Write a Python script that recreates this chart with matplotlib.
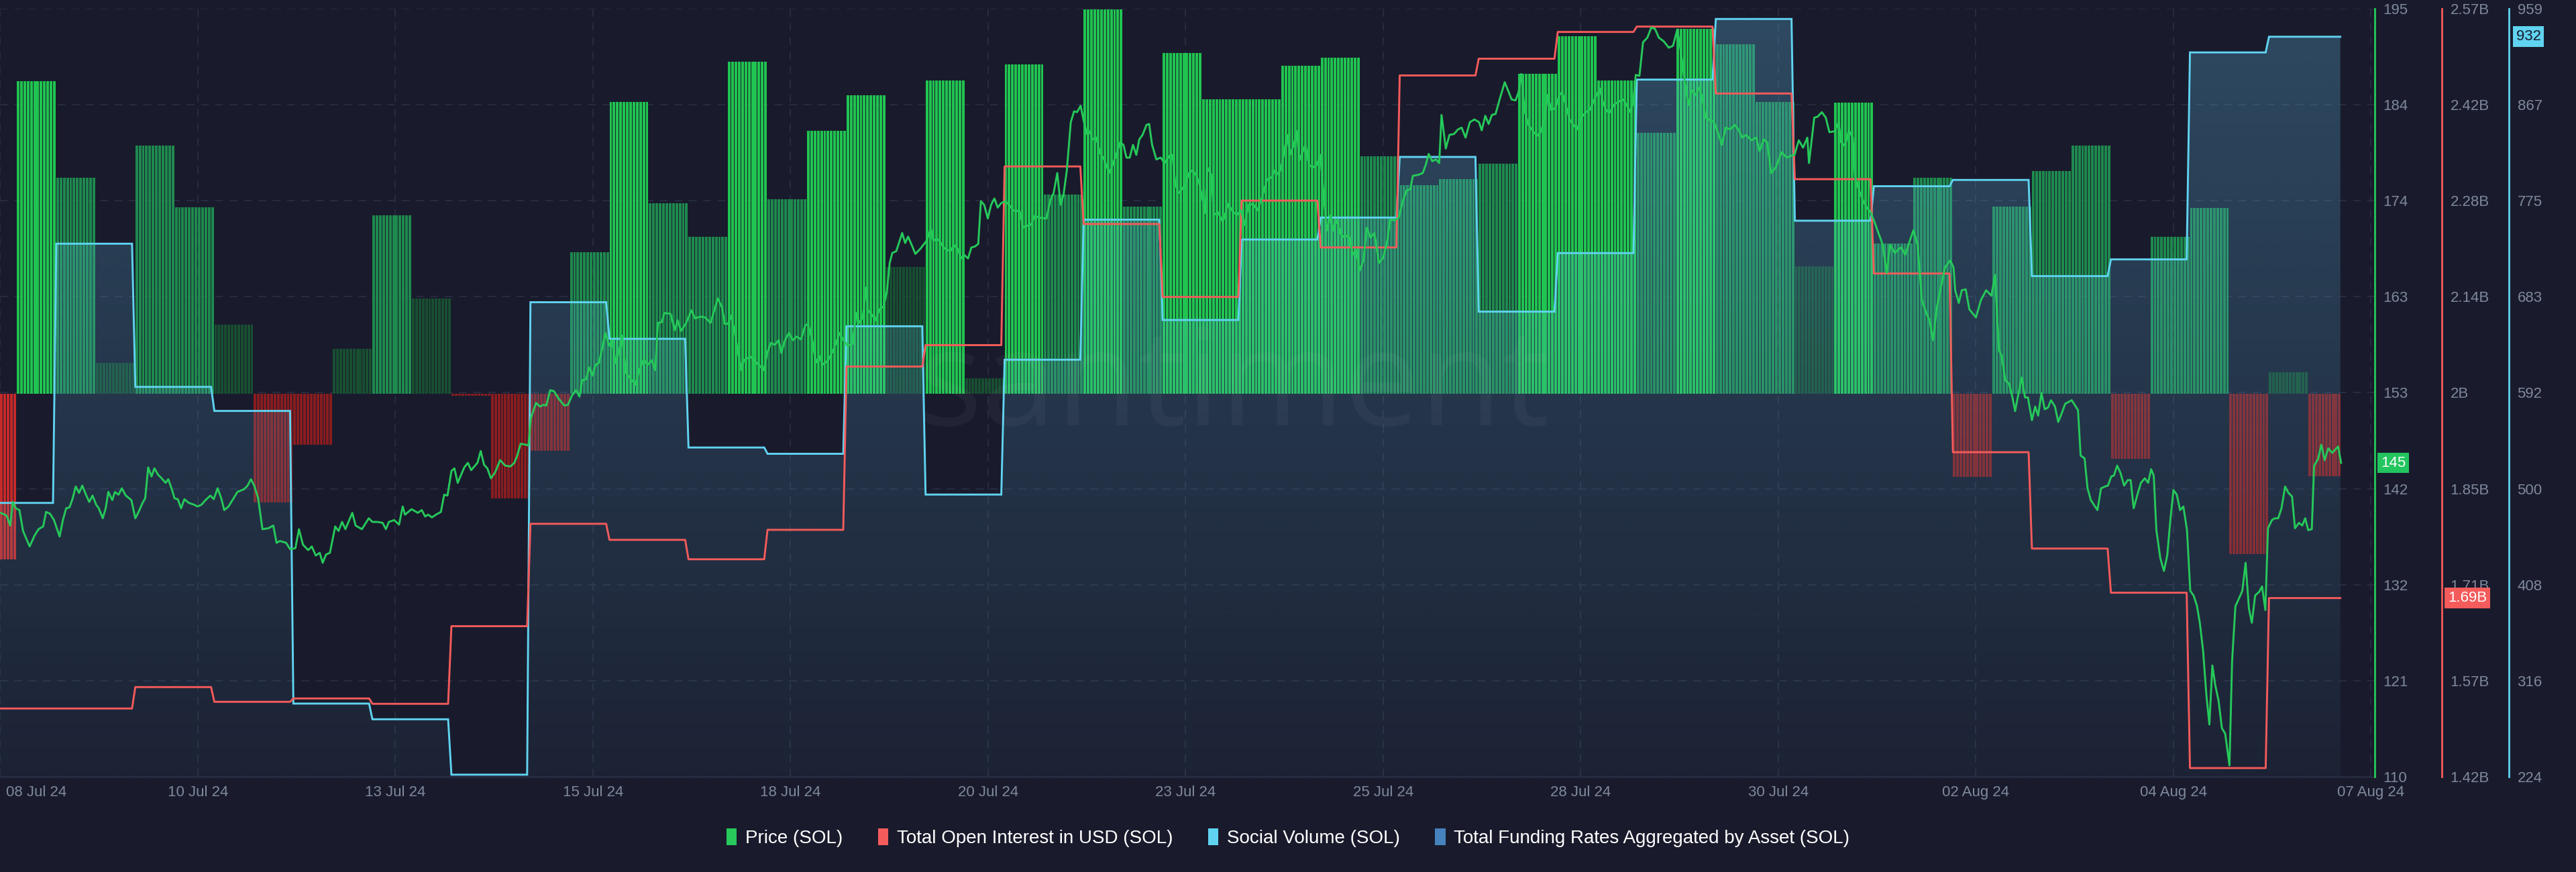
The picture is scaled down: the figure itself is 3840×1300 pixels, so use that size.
import numpy as np
import pandas as pd
import matplotlib
matplotlib.use("Agg")
import matplotlib.pyplot as plt
import matplotlib.dates as mdates
from matplotlib.colors import to_rgb
from matplotlib.patches import Patch, PathPatch
from matplotlib.transforms import blended_transform_factory, ScaledTranslation

plt.rcParams["font.family"] = ["Liberation Sans", "DejaVu Sans"]

# ----------------------------
# Colours
# ----------------------------
BG = "#191b2c"
GRID = "#282c40"
TICK = "#7f889d"
GREEN = "#26c95a"
RED = "#f45b5b"
CYAN = "#60d3f0"
BLUE = "#4682be"
SHADE = {"b": "#20c450", "m": "#1e8a4e", "d": "#184f31", "r": "#c42a2a", "R": "#8a1c1f"}

# ----------------------------
# Data (axis time is UTC-7, data days start at 00:00 UTC = 17:00)
# ----------------------------
AXIS_START = pd.Timestamp("2024-07-08 00:00")
FIRST_PERIOD = pd.Timestamp("2024-07-07 17:00")
DATA_END = pd.Timestamp("2024-08-06 14:40")

# funding rate per 12h period (%), starting FIRST_PERIOD
funding_rate = [
    -0.0429, 0.0812, 0.0561, 0.0080, 0.0645, 0.0484, 0.0180, -0.0281, -0.0131, 0.0117,
    0.0464, 0.0248, -0.0005, -0.0271, -0.0147, 0.0368, 0.0758, 0.0495, 0.0408, 0.0862,
    0.0506, 0.0682, 0.0775, 0.0330, 0.0814, 0.0040, 0.0855, 0.0517, 0.0997, 0.0486,
    0.0884, 0.0765, 0.0765, 0.0852, 0.0873, 0.0617, 0.0542, 0.0557, 0.0597, 0.0830,
    0.0929, 0.0814, 0.0678, 0.0947, 0.0908, 0.0757, 0.0331, 0.0756, 0.0390, 0.0561,
    -0.0216, 0.0486, 0.0578, 0.0645, -0.0168, 0.0407, 0.0483, -0.0416, 0.0057, -0.0213,
]
funding_shade = "rbmdmmdRRd" "mdRRRmbmmb" "mbbdbdbmbm" "bbbbbmmmmb" "bbmbmmdbmm" "RmmmRmmRdR"

# daily values
social_volume = [486, 734, 597, 574, 294, 279, 226, 678, 643, 539,
                 533, 655, 494, 623, 757, 661, 738, 759, 817, 669,
                 725, 891, 949, 756, 789, 795, 703, 719, 917, 932]
open_interest_bn = [1.524, 1.524, 1.556, 1.534, 1.539, 1.531, 1.647, 1.800, 1.776, 1.747,
                    1.791, 2.035, 2.067, 2.334, 2.248, 2.139, 2.283, 2.213, 2.470, 2.495,
                    2.535, 2.543, 2.443, 2.315, 2.174, 1.907, 1.763, 1.697, 1.435, 1.689]

# price: (hours after 08 Jul 00:00, USD)
price_points = [
    (0.0, 139.5), (0.8, 139.4), (1.9, 139.2), (3.0, 138.1), (3.8, 140.7), (4.7, 140.0), (5.8, 139.8),
    (6.9, 137.5), (8.9, 135.8), (10.4, 137.0), (11.6, 137.7), (13.0, 138.0), (13.9, 139.6), (15.1, 139.4),
    (16.3, 138.7), (18.0, 136.9), (19.0, 138.7), (20.0, 140.0), (21.0, 140.1), (21.9, 141.0), (22.9, 142.4),
    (23.9, 141.7), (24.9, 142.5), (26.0, 141.5), (27.0, 140.7), (28.0, 141.4), (29.1, 140.4), (29.9, 140.0),
    (31.1, 138.9), (32.0, 140.0), (32.8, 141.8), (34.0, 140.9), (34.8, 141.8), (35.9, 141.5), (36.9, 142.2),
    (38.1, 141.4), (39.8, 140.9), (41.0, 138.9), (42.0, 139.6), (43.2, 140.6), (44.0, 141.1), (44.9, 144.5),
    (45.9, 143.5), (46.8, 144.4), (47.9, 143.7), (49.0, 143.3), (50.2, 142.8), (51.0, 143.2), (52.0, 142.2),
    (52.9, 141.1), (53.9, 141.0), (54.9, 140.0), (55.9, 141.0), (57.2, 140.6), (58.8, 140.4), (59.9, 140.2),
    (61.1, 140.4), (62.3, 140.9), (63.8, 141.4), (64.8, 141.0), (66.0, 142.2), (67.1, 141.1), (68.0, 139.8),
    (69.3, 140.2), (70.5, 140.9), (72.0, 141.8), (74.0, 142.1), (75.1, 142.5), (76.1, 143.2), (77.1, 142.5),
    (78.3, 141.1), (79.6, 137.7), (81.4, 137.8), (82.9, 138.1), (83.9, 136.2), (84.9, 136.4), (86.8, 136.2),
    (88.0, 135.5), (89.6, 135.6), (90.7, 137.7), (91.9, 136.0), (93.5, 135.4), (94.6, 135.8), (95.8, 134.8),
    (97.0, 135.1), (97.9, 134.0), (98.9, 134.9), (100.1, 135.1), (101.7, 138.0), (102.7, 137.5), (103.8, 138.5),
    (104.8, 137.7), (106.9, 139.5), (107.9, 138.1), (109.8, 137.7), (111.9, 138.9), (113.0, 138.5), (114.5, 138.5),
    (116.1, 138.4), (117.1, 137.7), (118.0, 138.5), (119.6, 138.7), (121.1, 138.2), (122.2, 140.2),
    (122.9, 139.3), (124.9, 139.9), (126.8, 139.5), (128.0, 139.8), (129.0, 139.1), (129.9, 139.3), (131.1, 139.0),
    (132.3, 139.3), (133.8, 139.6), (134.8, 141.5), (135.8, 141.4), (137.0, 144.1), (137.9, 144.4), (138.9, 142.8),
    (140.9, 144.5), (142.0, 145.0), (143.0, 144.2), (144.9, 145.0), (145.9, 146.3), (146.9, 144.8), (147.9, 144.4),
    (149.0, 143.3), (150.2, 143.9), (151.8, 145.3), (153.3, 144.7), (154.9, 144.6), (156.1, 145.0), (157.0, 145.8),
    (158.0, 147.1), (159.6, 147.0), (160.4, 146.9), (161.1, 149.9), (162.7, 151.6), (163.9, 151.2), (165.0, 151.4),
    (165.8, 151.3), (167.0, 153.0), (168.1, 152.9), (169.7, 152.0), (171.3, 151.3), (172.4, 151.4), (173.6, 152.4),
    (174.8, 153.0), (175.9, 152.3), (176.7, 154.1), (177.9, 154.2), (178.8, 155.5), (179.8, 154.6), (180.8, 155.8),
    (181.8, 156.0), (183.0, 157.9), (183.7, 159.3), (184.9, 157.9), (185.7, 158.5), (186.9, 156.0), (188.0, 157.4),
    (188.8, 159.0), (190.0, 154.9), (191.5, 154.2), (192.9, 153.6), (194.0, 155.2), (195.4, 156.4), (196.6, 155.8),
    (197.8, 156.3), (198.9, 155.2), (199.7, 160.4), (200.9, 160.5), (201.7, 161.5), (203.6, 161.4), (204.8, 159.6),
    (205.7, 160.7), (206.7, 159.5), (208.3, 160.4), (209.9, 161.8), (211.0, 160.9), (212.6, 161.1), (214.1, 161.0),
    (215.7, 160.4), (217.9, 163.1), (219.2, 162.1), (220.0, 160.3), (221.0, 160.3), (221.9, 161.2), (223.1, 159.3),
    (223.9, 157.4), (225.1, 155.2), (225.8, 156.3), (227.8, 156.7), (229.7, 156.0), (231.9, 155.2), (232.9, 157.1),
    (234.0, 158.2), (235.2, 158.0), (236.4, 158.5), (237.2, 157.1), (238.3, 158.5), (239.5, 159.3), (240.7, 158.5),
    (241.8, 158.9), (243.2, 158.6), (244.4, 160.1),
    (245.3, 160.3), (246.6, 158.5), (247.7, 156.0), (248.7, 156.8), (249.7, 155.8), (251.4, 156.3), (253.0, 157.4),
    (254.9, 159.3), (256.1, 158.5), (257.3, 157.9), (258.8, 158.1), (260.0, 161.5), (260.9, 160.4), (261.9, 161.0),
    (263.0, 164.3), (263.5, 161.8), (264.7, 161.3), (265.8, 160.7), (267.0, 161.9), (268.2, 162.2), (269.2, 163.7),
    (270.1, 167.0), (270.9, 168.1), (272.1, 168.3), (273.9, 170.3), (274.8, 169.2), (275.7, 169.9), (277.0, 168.8),
    (277.9, 168.0), (279.5, 168.6), (281.4, 169.5), (282.6, 170.8), (283.4, 169.4), (284.3, 169.7), (285.3, 169.4),
    (286.5, 168.7), (287.7, 168.4), (288.8, 168.4), (289.6, 169.0), (290.8, 168.5), (291.8, 167.5), (292.7, 167.9),
    (293.9, 167.5), (294.9, 168.7), (295.9, 168.8), (297.0, 169.1), (297.8, 173.8), (298.8, 173.4), (299.9, 171.9),
    (300.9, 173.4), (301.9, 174.1), (302.9, 173.1), (304.0, 173.6), (305.2, 173.8), (306.4, 173.4), (307.6, 172.8),
    (308.5, 172.7), (309.5, 172.8), (310.7, 170.9), (311.8, 171.1), (313.0, 171.2), (314.2, 172.2), (315.3, 172.0),
    (317.7, 171.9), (318.9, 173.9), (319.9, 174.7), (321.0, 176.9), (322.0, 173.4), (322.9, 174.5), (323.9, 177.2),
    (325.1, 182.5), (326.1, 183.7), (327.0, 183.6), (328.1, 184.3), (329.0, 182.7), (330.0, 181.2), (330.9, 181.5),
    (331.7, 180.6), (332.9, 180.8), (333.9, 179.2), (335.2, 178.4), (336.8, 176.9), (337.8, 177.8), (338.9, 178.9),
    (340.1, 180.3), (341.1, 180.0), (342.0, 178.6), (343.0, 178.6), (344.0, 180.0), (345.0, 178.9), (345.9, 180.6),
    (346.9, 181.1), (348.1, 182.2), (348.9, 182.3), (349.8, 180.0), (351.1, 178.4), (352.4, 178.6), (353.6, 178.0),
    (355.1, 178.8), (356.0, 178.9), (356.8, 175.8), (357.8, 174.7), (358.6, 175.0), (359.8, 175.6), (361.0, 176.9),
    (362.1, 177.2), (363.1, 176.7), (364.1, 175.8), (365.2, 173.9), (365.9, 172.5), (366.6, 177.5),
    (367.8, 176.7), (368.6, 172.3), (369.8, 172.6), (371.3, 171.5), (372.9, 173.5), (374.4, 172.6), (375.6, 172.3),
    (376.8, 172.8), (377.9, 171.2), (379.1, 173.4), (380.5, 173.5), (381.8, 172.8), (383.0, 174.0), (384.7, 176.2),
    (386.0, 176.4), (387.1, 177.2), (388.3, 176.7), (389.2, 177.8), (390.0, 179.4), (390.8, 181.1), (391.7, 178.9),
    (392.8, 180.0), (393.8, 181.5), (394.5, 178.3), (395.5, 179.2), (396.4, 180.0), (397.4, 177.8), (398.6, 177.5),
    (399.8, 177.8), (400.9, 178.9), (401.9, 174.5), (402.9, 170.6), (404.1, 172.3), (404.8, 170.6), (405.8, 171.7),
    (407.2, 170.1), (408.3, 169.8), (409.5, 170.1), (410.7, 167.9), (411.7, 168.5), (412.9, 166.2), (414.0, 167.3),
    (415.0, 170.9), (416.1, 169.8), (417.3, 170.3), (418.7, 167.0), (420.0, 167.6), (421.2, 169.4), (422.1, 171.8),
    (423.4, 171.7), (424.7, 172.0), (426.0, 173.9), (427.1, 175.0), (428.2, 175.1), (429.0, 176.6), (430.6, 176.7),
    (432.0, 176.9), (432.9, 177.8), (433.8, 179.0), (434.9, 178.2), (436.0, 178.4), (437.0, 178.0), (437.7, 183.3),
    (439.0, 179.6), (440.1, 181.1), (441.5, 181.2), (442.7, 181.7), (443.8, 181.9), (445.0, 180.8), (446.3, 182.5),
    (447.7, 182.8), (449.1, 182.5), (449.9, 181.6), (451.0, 183.2), (452.0, 182.3), (453.0, 183.3), (454.1, 183.4),
    (455.5, 185.2), (456.9, 186.9), (457.9, 186.0), (459.0, 185.0), (460.2, 184.9), (461.1, 185.8), (461.9, 187.8),
    (462.9, 183.8), (464.1, 182.2), (465.5, 181.5), (466.8, 181.0), (468.0, 181.5), (469.2, 183.4), (469.9, 185.5),
    (471.1, 183.8), (472.3, 184.1), (473.5, 185.5), (474.4, 185.8), (475.4, 184.4), (476.6, 182.8), (477.7, 182.2),
    (478.9, 181.7), (480.1, 183.0), (481.6, 183.6), (482.8, 183.9), (484.4, 185.2), (485.8, 186.2), (486.7, 184.7),
    (487.9, 183.7),
    (488.9, 183.6), (490.0, 184.4), (491.2, 184.7), (492.8, 185.0), (493.9, 184.4), (495.1, 183.6), (495.9, 184.7),
    (496.7, 187.7), (497.8, 187.6), (498.9, 191.3), (500.2, 191.8), (501.4, 192.9), (502.5, 192.8), (503.7, 191.8),
    (505.2, 191.4), (506.7, 190.7), (508.0, 190.9), (509.3, 192.7), (510.3, 190.5), (511.5, 187.1), (512.7, 184.4),
    (513.7, 186.0), (515.0, 185.5), (516.0, 186.3), (516.9, 185.2), (517.9, 183.0), (519.3, 182.7), (520.5, 182.5),
    (521.6, 181.4), (522.8, 180.0), (524.0, 181.9), (525.4, 181.7), (526.7, 182.2), (527.9, 181.7), (529.0, 180.8),
    (530.2, 181.1), (531.8, 180.5), (533.3, 180.8), (534.3, 179.3), (535.5, 180.6), (536.6, 180.3), (537.8, 176.9),
    (539.2, 177.5), (541.0, 179.2), (542.5, 178.6), (543.8, 178.8), (544.9, 178.9), (546.2, 180.5), (547.5, 179.7),
    (548.8, 180.8), (549.3, 178.0), (550.9, 183.0), (551.9, 183.1), (553.2, 183.6), (554.4, 183.0), (555.5, 181.4),
    (557.1, 181.5), (558.3, 182.5), (559.0, 180.3), (560.2, 179.9), (561.4, 181.6), (562.6, 180.8), (563.3, 176.4),
    (564.5, 175.0), (565.7, 173.9), (566.8, 173.1), (568.0, 172.6), (569.2, 171.5), (570.4, 170.3), (571.7, 169.0),
    (572.9, 165.9), (573.9, 169.0), (575.4, 168.1), (576.4, 168.5), (577.4, 168.7), (578.5, 167.9), (579.7, 169.2),
    (581.0, 170.6), (582.3, 169.0), (583.6, 162.9), (584.9, 161.5), (585.9, 160.7), (587.0, 158.5), (588.1, 162.1),
    (589.5, 164.6), (590.6, 166.5), (592.2, 167.3), (593.2, 166.5), (593.7, 164.0), (594.8, 162.6), (595.7, 164.0),
    (596.9, 164.1), (598.0, 161.9), (600.0, 161.0), (601.5, 162.9), (603.1, 164.0), (604.7, 163.4), (605.8, 165.7),
    (607.0, 157.4), (607.8, 156.8), (608.9, 154.1), (610.1, 153.7), (611.1, 152.2),
    (611.9, 150.7), (612.8, 152.4), (613.9, 154.4), (614.9, 152.2), (615.8, 152.2), (617.0, 149.7), (618.0, 151.2),
    (618.9, 150.2), (619.9, 152.7), (620.9, 150.9), (621.9, 151.1), (622.8, 151.9), (624.0, 151.2), (625.0, 149.5),
    (626.1, 150.5), (627.1, 151.5), (629.1, 151.9), (631.0, 150.8), (631.8, 145.8), (633.0, 145.5), (633.9, 142.2),
    (634.9, 140.9), (636.9, 139.8), (638.0, 142.2), (639.2, 142.4), (640.1, 142.5), (641.1, 143.5), (641.9, 143.6),
    (642.9, 144.7), (643.9, 143.9), (645.0, 142.5), (646.1, 143.1), (647.0, 143.1), (647.9, 140.0), (649.2, 141.7),
    (650.1, 142.8), (651.3, 143.3), (652.3, 142.8), (653.2, 144.3), (654.0, 143.6), (654.8, 137.6), (656.0, 134.5),
    (657.1, 133.1), (658.1, 134.8), (659.1, 138.9), (660.0, 142.0), (661.0, 141.5), (662.0, 139.8), (663.0, 140.2),
    (664.1, 137.6), (665.1, 130.9), (666.1, 130.4), (667.1, 129.3), (668.0, 127.4), (669.0, 124.3), (670.0, 119.4),
    (670.9, 116.2), (671.8, 122.7), (672.7, 120.5), (673.7, 118.8), (674.7, 115.8), (675.7, 115.2), (677.0, 111.7),
    (677.8, 123.2), (678.8, 129.2), (679.9, 130.1), (680.9, 130.9), (681.9, 134.0), (682.9, 129.0), (683.8, 127.4),
    (684.8, 130.4), (686.0, 130.8), (686.9, 131.4), (687.9, 128.8), (688.7, 137.8), (689.9, 138.7), (690.8, 138.9),
    (691.8, 138.9), (692.8, 140.0), (693.9, 142.4), (694.9, 141.7), (696.0, 141.3), (696.9, 137.8), (698.1, 138.4),
    (699.1, 138.1), (700.0, 138.9), (700.9, 137.6), (702.0, 137.7), (702.7, 144.7), (703.9, 145.4), (704.9, 147.0),
    (705.9, 145.3), (707.0, 146.6), (708.2, 146.1), (710.0, 146.8), (710.9, 145.0),
]

price_tick_labels = ["110", "121", "132", "142", "153", "163", "174", "184", "195"]
oi_tick_labels = ["1.42B", "1.57B", "1.71B", "1.85B", "2B", "2.14B", "2.28B", "2.42B", "2.57B"]
sv_tick_labels = ["224", "316", "408", "500", "592", "683", "775", "867", "959"]

PRICE_LIM = (110.45, 195.01)
OI_LIM = (1.422, 2.570)
SV_LIM = (224, 959)
FUND_LIM = (-0.0993, 0.1)

legend_labels = ["Price (SOL)", "Total Open Interest in USD (SOL)", "Social Volume (SOL)",
                 "Total Funding Rates Aggregated by Asset (SOL)"]


def step_xy(values):
    xs, ys = [], []
    for i, v in enumerate(values):
        t0 = FIRST_PERIOD + pd.Timedelta(days=i)
        t1 = min(t0 + pd.Timedelta(hours=23), DATA_END)
        xs += [t0, t1]
        ys += [v, v]
    return mdates.date2num(xs), np.array(ys, dtype=float)


# ----------------------------
# Figure and axes
# ----------------------------
fig = plt.figure(figsize=(38.4, 13), dpi=100, facecolor=BG)
ax_f = fig.add_axes([0.0, 0.10923, 0.92188, 0.88100])
ax_f.set_facecolor(BG)
ax_s = ax_f.twinx()
ax_o = ax_f.twinx()
ax_p = ax_f.twinx()

x0 = mdates.date2num(AXIS_START - pd.Timedelta(minutes=6))
x1 = mdates.date2num(AXIS_START + pd.Timedelta(days=30.047))

# funding bars, one thin stripe per hour
hours = pd.date_range(FIRST_PERIOD, DATA_END, freq="h")
period = np.asarray((hours - FIRST_PERIOD) // pd.Timedelta(hours=12), dtype=int)
fund_vals = np.asarray(funding_rate)[period]
fund_cols = [SHADE[funding_shade[k]] for k in period]
ax_f.bar(mdates.date2num(hours), fund_vals, width=0.8 / 24, align="edge",
         color=fund_cols, linewidth=0, zorder=2)
ax_f.set_ylim(*FUND_LIM)
ax_f.set_yticks(np.linspace(FUND_LIM[0], FUND_LIM[1], 9))
ax_f.tick_params(axis="y", left=False, labelleft=False)
ax_f.grid(True, color=GRID, linestyle=(0, (6, 5)), linewidth=1.4, zorder=0)
ax_f.set_axisbelow(True)

# social volume: gradient area + line
sv_x, sv_y = step_xy(social_volume)
poly = ax_s.fill_between(sv_x, sv_y, SV_LIM[0], facecolor="none", edgecolor="none")
clip = PathPatch(poly.get_paths()[0], transform=ax_s.transData, facecolor="none", edgecolor="none")
ax_s.add_patch(clip)
grad = np.zeros((256, 1, 4))
grad[..., :3] = to_rgb("#5fb8e0")
grad[..., 3] = np.linspace(0.05, 0.30, 256)[:, None]
img = ax_s.imshow(grad, extent=[x0, x1, SV_LIM[0], SV_LIM[1]], origin="lower",
                  aspect="auto", interpolation="bilinear", zorder=1)
img.set_clip_path(clip)
ax_s.plot(sv_x, sv_y, color=CYAN, lw=2.1, zorder=3, solid_joinstyle="miter")
ax_s.set_ylim(*SV_LIM)

# open interest line
oi_x, oi_y = step_xy(open_interest_bn)
ax_o.plot(oi_x, oi_y, color=RED, lw=2.1, zorder=3)
ax_o.set_ylim(*OI_LIM)

# price line
p_hours, p_vals = zip(*price_points)
p_times = AXIS_START + pd.to_timedelta(np.array(p_hours), unit="h")
ax_p.plot(mdates.date2num(p_times), p_vals, color=GREEN, lw=2.1, zorder=4)
ax_p.set_ylim(*PRICE_LIM)

ax_f.set_xlim(x0, x1)

# ----------------------------
# Axes styling
# ----------------------------
for ax in (ax_f, ax_s, ax_o, ax_p):
    for side in ("top", "left", "right"):
        ax.spines[side].set_visible(False)
ax_s.spines["bottom"].set_visible(False)
ax_o.spines["bottom"].set_visible(False)
ax_p.spines["bottom"].set_visible(False)
ax_f.spines["bottom"].set_color("#262a3e")
ax_f.spines["bottom"].set_linewidth(2)

for ax, pos, col, lim, labels in ((ax_p, 1.0, GREEN, PRICE_LIM, price_tick_labels),
                                  (ax_o, 1.02825, RED, OI_LIM, oi_tick_labels),
                                  (ax_s, 1.0565, CYAN, SV_LIM, sv_tick_labels)):
    ax.spines["right"].set_visible(True)
    ax.spines["right"].set_position(("axes", pos))
    ax.spines["right"].set_color(col)
    ax.spines["right"].set_linewidth(2)
    ax.set_yticks(np.linspace(lim[0], lim[1], 9))
    ax.set_yticklabels(labels)
    ax.tick_params(axis="y", length=0, pad=9, labelsize=16, labelcolor=TICK)

date_ticks = pd.date_range("2024-07-08", periods=13, freq="60h")
ax_f.set_xticks(mdates.date2num(date_ticks))
ax_f.xaxis.set_major_formatter(mdates.DateFormatter("%d %b %y"))
ax_f.tick_params(axis="x", length=0, pad=9, labelsize=16, labelcolor=TICK)
first = ax_f.get_xticklabels()[0]
first.set_horizontalalignment("left")
first.set_transform(first.get_transform() + ScaledTranslation(0.09, 0, fig.dpi_scale_trans))

# last-value tags
tag_font = dict(fontsize=16, ha="center", va="center", clip_on=False, zorder=10)
ax_p.text(1.0079, price_points[-1][1], "145", color="white",
          transform=blended_transform_factory(ax_p.transAxes, ax_p.transData),
          bbox=dict(boxstyle="square,pad=0.22", fc="#22c55e", ec="none"), **tag_font)
ax_o.text(1.039, open_interest_bn[-1], "1.69B", color="white",
          transform=blended_transform_factory(ax_o.transAxes, ax_o.transData),
          bbox=dict(boxstyle="square,pad=0.22", fc=RED, ec="none"), **tag_font)
ax_s.text(1.0647, social_volume[-1], "932", color=BG,
          transform=blended_transform_factory(ax_s.transAxes, ax_s.transData),
          bbox=dict(boxstyle="square,pad=0.22", fc=CYAN, ec="none"), **tag_font)

# watermark
fig.text(0.4792, 0.5123, "santiment", fontsize=144, family=["Open Sans", "DejaVu Sans"],
         color="white", alpha=0.04, ha="center", va="baseline")

# legend
handles = [Patch(facecolor=c, edgecolor="none") for c in (GREEN, RED, CYAN, BLUE)]
fig.legend(handles, legend_labels, loc="center", bbox_to_anchor=(0.5, 0.039), ncol=4,
           frameon=False, fontsize=20, labelcolor="white", handlelength=0.55,
           handleheight=1.0, handletextpad=0.45, columnspacing=1.9)

fig.savefig("out.png", dpi=100, facecolor=BG)
